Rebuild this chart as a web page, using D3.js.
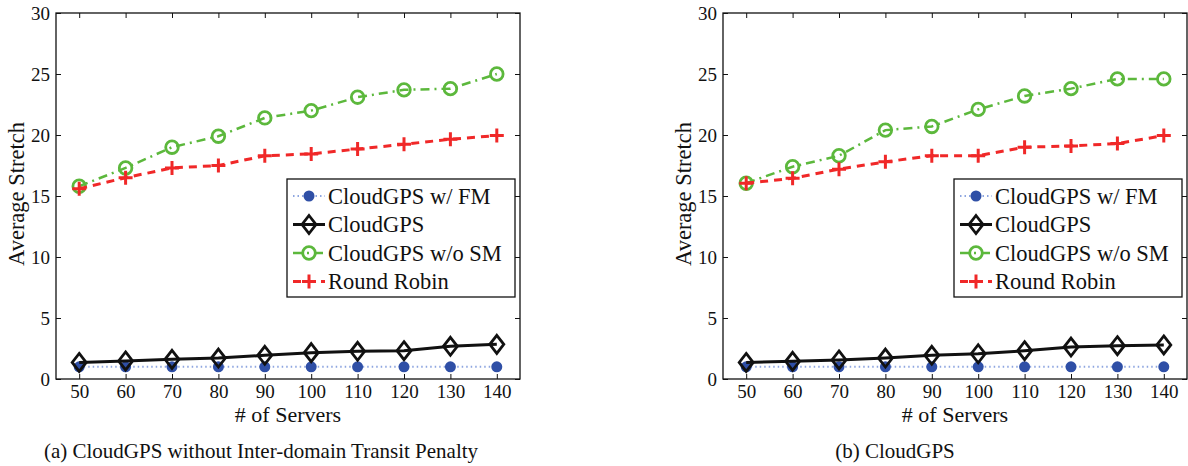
<!DOCTYPE html>
<html>
<head>
<meta charset="utf-8">
<script src="https://cdn.jsdelivr.net/npm/d3@7"></script>
<style>
  body { margin: 0; background: #fff; }
  svg { display: block; font-family: "Liberation Serif", "Times New Roman", serif; }
</style>
</head>
<body>
<div id="chart"></div>
<script>
const servers = [50, 60, 70, 80, 90, 100, 110, 120, 130, 140];
const seriesNames = ["CloudGPS w/ FM", "CloudGPS", "CloudGPS w/o SM", "Round Robin"];
const yTicks = [0, 5, 10, 15, 20, 25, 30];

// panel (a)
const aFM    = [1.0, 1.0, 1.0, 1.0, 1.0, 1.0, 1.0, 1.0, 1.0, 1.0];
const aCloud = [1.36, 1.48, 1.61, 1.72, 1.94, 2.16, 2.27, 2.32, 2.68, 2.84];
const aNoSM  = [15.8, 17.3, 19.0, 19.9, 21.4, 22.0, 23.1, 23.7, 23.8, 25.0];
const aRR    = [15.6, 16.5, 17.3, 17.5, 18.3, 18.45, 18.85, 19.24, 19.65, 19.95];

// panel (b)
const bFM    = [1.0, 1.0, 1.0, 1.0, 1.0, 1.0, 1.0, 1.0, 1.0, 1.0];
const bCloud = [1.36, 1.45, 1.56, 1.72, 1.94, 2.07, 2.32, 2.62, 2.73, 2.79];
const bNoSM  = [16.05, 17.4, 18.3, 20.4, 20.7, 22.1, 23.2, 23.8, 24.6, 24.6];
const bRR    = [16.05, 16.45, 17.2, 17.8, 18.3, 18.3, 19.0, 19.1, 19.3, 19.95];

const captions = ["(a)  CloudGPS without Inter-domain Transit Penalty", "(b)  CloudGPS"];

const width = 1188, height = 466;

const styles = [
    { color: "#8ea6e0", dash: "1.5,3", width: 2, marker: "dot", mColor: "#2f4fa6" },
    { color: "#111", dash: null, width: 3, marker: "diamond", mColor: "#111" },
    { color: "#5cb83c", dash: "9,5,2,5", width: 2.5, marker: "circle", mColor: "#5cb83c" },
    { color: "#f02828", dash: "8,6", width: 3, marker: "plus", mColor: "#f02828" }
];

const svg = d3.select("#chart").append("svg")
    .attr("width", width)
    .attr("height", height);

function drawMarker(sel, type, color) {
    if (type === "dot") {
        sel.append("circle").attr("r", 5.5).attr("fill", color);
    } else if (type === "diamond") {
        sel.append("path").attr("d", "M0,-9L7,0L0,9L-7,0Z")
            .attr("fill", "none").attr("stroke", color).attr("stroke-width", 2.8);
    } else if (type === "circle") {
        sel.append("circle").attr("r", 6.3).attr("fill", "none")
            .attr("stroke", color).attr("stroke-width", 2.8);
    } else {
        sel.append("path").attr("d", "M-7,0H7M0,-7V7")
            .attr("stroke", color).attr("stroke-width", 3);
    }
}

function drawPanel(left, right, series, caption, captionX) {
    const top = 13, bottom = 379;
    const x = d3.scaleLinear().domain([45, 145]).range([left, right]);
    const y = d3.scaleLinear().domain([0, 30]).range([bottom, top]);
    const g = svg.append("g");

    // frame
    g.append("rect")
        .attr("x", left).attr("y", top)
        .attr("width", right - left).attr("height", bottom - top)
        .attr("fill", "none").attr("stroke", "#111").attr("stroke-width", 1.3);

    // inward ticks on all sides
    g.append("g").attr("transform", `translate(0,${bottom})`)
        .call(d3.axisBottom(x).tickValues(servers).tickSizeInner(-5).tickSizeOuter(0).tickPadding(6))
        .call(a => a.select(".domain").remove())
        .call(a => a.selectAll("text").attr("font-size", 19).attr("fill", "#111").attr("font-family", "Liberation Serif"));
    g.append("g").attr("transform", `translate(0,${top})`)
        .call(d3.axisTop(x).tickValues(servers).tickSizeInner(-5).tickSizeOuter(0).tickFormat(""))
        .call(a => a.select(".domain").remove());
    g.append("g").attr("transform", `translate(${left},0)`)
        .call(d3.axisLeft(y).tickValues(yTicks).tickSizeInner(-5).tickSizeOuter(0).tickPadding(6))
        .call(a => a.select(".domain").remove())
        .call(a => a.selectAll("text").attr("font-size", 19).attr("fill", "#111").attr("font-family", "Liberation Serif"));
    g.append("g").attr("transform", `translate(${right},0)`)
        .call(d3.axisRight(y).tickValues(yTicks).tickSizeInner(-5).tickSizeOuter(0).tickFormat(""))
        .call(a => a.select(".domain").remove());
    g.selectAll(".tick line").attr("stroke", "#111");

    // axis titles
    g.append("text")
        .attr("x", x(95)).attr("y", 422)
        .attr("text-anchor", "middle")
        .attr("font-size", 22).attr("fill", "#111")
        .text("# of Servers");
    g.append("text")
        .attr("transform", `translate(${left - 32},${y(15) - 2}) rotate(-90)`)
        .attr("text-anchor", "middle")
        .attr("font-size", 22.5).attr("fill", "#111")
        .text("Average Stretch");

    const line = d3.line().x((d, i) => x(servers[i])).y(d => y(d));

    series.forEach((vals, k) => {
        const s = styles[k];
        g.append("path")
            .attr("d", line(vals))
            .attr("fill", "none")
            .attr("stroke", s.color)
            .attr("stroke-width", s.width)
            .attr("stroke-dasharray", s.dash);
        g.selectAll(null).data(vals).enter().append("g")
            .attr("transform", (d, i) => `translate(${x(servers[i])},${y(d)})`)
            .each(function () { drawMarker(d3.select(this), s.marker, s.mColor); });
    });

    // legend
    const lx = left + 231, ly = 179, lw = right - 5 - lx, lh = 118;
    const lg = g.append("g");
    lg.append("rect")
        .attr("x", lx).attr("y", ly).attr("width", lw).attr("height", lh)
        .attr("fill", "#fff").attr("stroke", "#111").attr("stroke-width", 1.3);
    seriesNames.forEach((name, k) => {
        const s = styles[k];
        const yy = ly + 17 + k * 28.5;
        lg.append("line")
            .attr("x1", lx + 6).attr("x2", lx + 38).attr("y1", yy).attr("y2", yy)
            .attr("stroke", s.color).attr("stroke-width", s.width)
            .attr("stroke-dasharray", s.dash);
        drawMarker(lg.append("g").attr("transform", `translate(${lx + 22},${yy})`), s.marker, s.mColor);
        lg.append("text")
            .attr("x", lx + 41).attr("y", yy).attr("dy", "0.35em")
            .attr("font-size", 22.5).attr("fill", "#111")
            .text(name);
    });

    svg.append("text")
        .attr("x", captionX).attr("y", 458)
        .attr("text-anchor", "middle")
        .attr("font-size", 21).attr("fill", "#111")
        .text(caption);
}

drawPanel(56, 520, [aFM, aCloud, aNoSM, aRR], captions[0], 261);
drawPanel(723, 1187, [bFM, bCloud, bNoSM, bRR], captions[1], 895);
</script>
</body>
</html>
